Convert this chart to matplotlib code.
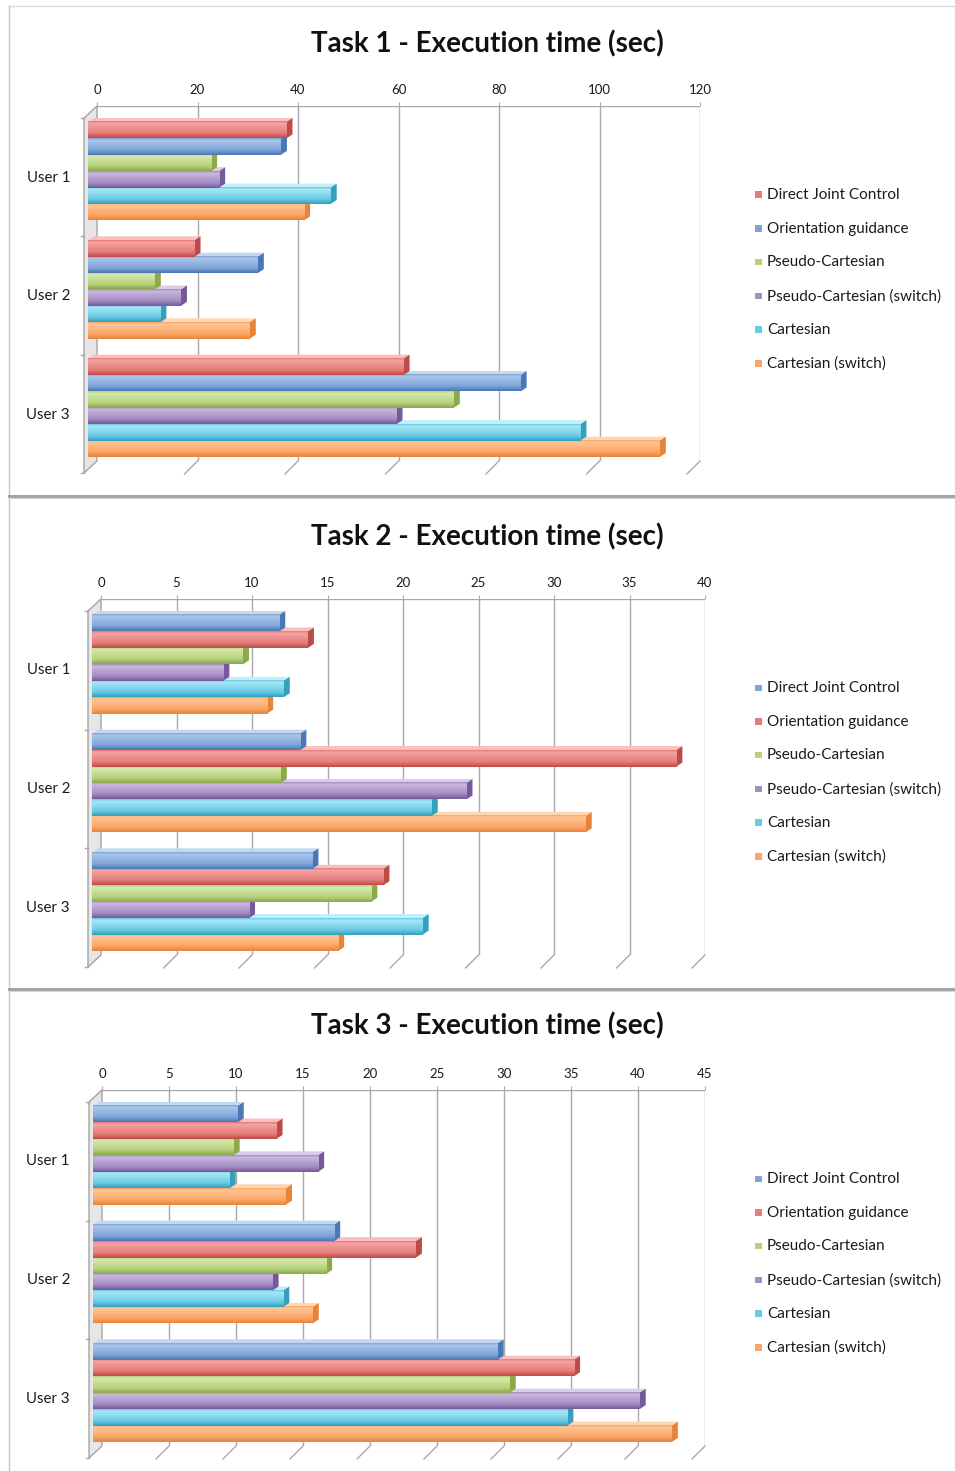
import numpy as np
import matplotlib
matplotlib.use("Agg")
import matplotlib.pyplot as plt
from matplotlib.patches import Polygon, Rectangle
from matplotlib.lines import Line2D
from matplotlib.colors import to_rgb

plt.rcParams['font.family'] = ['Lato', 'DejaVu Sans']

W, H, DPI = 955, 1471, 100

users = ["User 1", "User 2", "User 3"]
methods = ["Direct Joint Control", "Orientation guidance", "Pseudo-Cartesian",
           "Pseudo-Cartesian (switch)", "Cartesian", "Cartesian (switch)"]

# execution times (sec), one list per user, in method order
task1_user1 = [39.5, 38.4, 24.5, 26.1, 48.3, 43.0]
task1_user2 = [21.2, 33.8, 13.3, 18.5, 14.4, 32.2]
task1_user3 = [62.8, 86.1, 72.8, 61.4, 98.0, 113.8]

task2_user1 = [12.4, 14.3, 10.0, 8.7, 12.7, 11.6]
task2_user2 = [13.8, 38.7, 12.5, 24.8, 22.5, 32.7]
task2_user3 = [14.6, 19.3, 18.5, 10.4, 21.9, 16.3]

task3_user1 = [10.8, 13.7, 10.5, 16.8, 10.2, 14.4]
task3_user2 = [18.0, 24.1, 17.4, 13.4, 14.2, 16.4]
task3_user3 = [30.2, 35.9, 31.1, 40.8, 35.4, 43.2]

task1_ticks = [0, 20, 40, 60, 80, 100, 120]
task2_ticks = [0, 5, 10, 15, 20, 25, 30, 35, 40]
task3_ticks = [0, 5, 10, 15, 20, 25, 30, 35, 40, 45]

titles = ["Task 1 - Execution time (sec)",
          "Task 2 - Execution time (sec)",
          "Task 3 - Execution time (sec)"]

# (light, base, dark) shades for the Office-style 3D bars
RED = ('#F5A3A1', '#E57D7B', '#BF4B49')
BLUE = ('#A9C6EA', '#7FA5D8', '#4A78B4')
GREEN = ('#D6E9AB', '#B6D27D', '#8DAA4B')
PURPLE = ('#C9B8DE', '#A58CC4', '#77599A')
CYAN = ('#A8E7F6', '#69CBE4', '#33A0BC')
ORANGE = ('#FFC594', '#FBA666', '#E6843A')

task1_colors = [RED, BLUE, GREEN, PURPLE, CYAN, ORANGE]
task23_colors = [BLUE, RED, GREEN, PURPLE, CYAN, ORANGE]

GRID = '#a9a9a9'

fig = plt.figure(figsize=(W / DPI, H / DPI), dpi=DPI)
fig.patch.set_facecolor('white')


def fig_line(xs, ys, **kw):
    fig.add_artist(Line2D([x / W for x in xs], [1 - y / H for y in ys],
                          transform=fig.transFigure, **kw))


def face_gradient(shades):
    light, base, dark = [np.array(to_rgb(c)) for c in shades]
    stops = [(0.0, base), (0.12, light), (0.35, light * 0.6 + base * 0.4),
             (0.7, base), (1.0, dark)]
    t = np.linspace(0, 1, 32)
    rows = []
    for tt in t:
        for (a, ca), (b, cb) in zip(stops[:-1], stops[1:]):
            if a <= tt <= b:
                f = (tt - a) / (b - a)
                rows.append(ca * (1 - f) + cb * f)
                break
    return np.array(rows).reshape(-1, 1, 3)


def draw_panel(box, title, title_y, data, colors, ticks, label_off):
    x0, x1, ytop, ybot = box
    ax = fig.add_axes([x0 / W, 1 - ybot / H, (x1 - x0) / W, (ybot - ytop) / H])
    ax.set_facecolor('none')
    n_cat = len(users)
    n_ser = len(methods)
    xmax = ticks[-1]
    ppx = (x1 - x0) / xmax
    ppy = (ybot - ytop) / n_cat

    def dx(p):
        return p / ppx

    def dy(p):
        return p / ppy

    # back wall gridlines, top edge and floor slants
    ax.vlines(ticks[1:], 0, n_cat, color=GRID, lw=1.0, zorder=1)
    ax.hlines(0, 0, xmax, color=GRID, lw=1.0, zorder=1)
    for t in ticks[1:]:
        ax.plot([t, t - dx(13)], [n_cat, n_cat + dy(13)], color=GRID, lw=1.0,
                clip_on=False, zorder=1)

    # side wall along the category axis
    wall = Polygon([(0, 0), (0, n_cat), (-dx(13), n_cat + dy(12)), (-dx(13), dy(12))],
                   closed=True, facecolor='#e6e6e6', edgecolor='#a4a4a4', lw=1.0,
                   clip_on=False, zorder=2)
    ax.add_patch(wall)
    for i in range(n_cat + 1):
        ax.plot([-dx(13), -dx(16)], [i + dy(12), i + dy(12)], color='#a4a4a4', lw=1.0,
                clip_on=False, zorder=2)

    gap = dy(10)
    slot = (1 - 2 * gap) / n_ser
    shift_x, shift_y = dx(9), dy(6)
    ex, ey = dx(6), dy(4)
    for i, vals in enumerate(data):
        for k in reversed(range(n_ser)):
            v = vals[k]
            light, base, dark = colors[k]
            yc = i + gap + slot * (k + 0.5) + shift_y
            z = 10 + (n_ser - k)
            ax.barh(yc, v, height=slot, left=-shift_x, color=base, lw=0,
                    zorder=z + 0.2, clip_on=False)
            xl, xr = -shift_x, v - shift_x
            yt, yb = yc - slot / 2, yc + slot / 2
            top_c = np.array(to_rgb(light)) * 0.7 + 0.3
            ax.add_patch(Polygon([(xl, yt), (xr, yt), (xr + ex, yt - ey), (xl + ex, yt - ey)],
                                 closed=True, facecolor=top_c, edgecolor='none',
                                 zorder=z, clip_on=False))
            ax.add_patch(Polygon([(xr, yt), (xr, yb), (xr + ex, yb - ey), (xr + ex, yt - ey)],
                                 closed=True, facecolor=dark, edgecolor='none',
                                 zorder=z + 0.1, clip_on=False))
            ax.imshow(face_gradient(colors[k]), extent=(xl, xr, yb, yt), aspect='auto',
                      interpolation='bilinear', zorder=z + 0.3, clip_on=False)

    ax.set_autoscale_on(False)
    ax.set_xlim(0, xmax)
    ax.set_ylim(n_cat, 0)
    ax.xaxis.tick_top()
    ax.set_xticks(ticks)
    ax.set_xticklabels([str(t) for t in ticks])
    ax.tick_params(axis='x', length=3, color=GRID, pad=4, labelsize=9.5,
                   labelcolor='#1a1a1a')
    ax.set_yticks([])
    for s in ax.spines.values():
        s.set_visible(False)

    for i, u in enumerate(users):
        ax.text(-dx(x0 - 70), i + 0.5 + dy(label_off), u, ha='right', va='center',
                fontsize=10.8, color='#1a1a1a', clip_on=False)

    fig.text(487 / W, 1 - title_y / H, title, ha='center', va='center',
             fontsize=20, fontweight='bold', color='#111111')

    # legend
    for k, name in enumerate(methods):
        ly = ytop + 89 + 33.7 * k
        fig.patches.append(Rectangle((755 / W, 1 - (ly + 3) / H), 6.5 / W, 6.5 / H,
                                     transform=fig.transFigure, facecolor=colors[k][1],
                                     edgecolor='none'))
        fig.text(767 / W, 1 - ly / H, name, ha='left', va='center', fontsize=11,
                 color='#1a1a1a')


draw_panel((97, 700, 106, 461), titles[0], 44,
           [task1_user1, task1_user2, task1_user3], task1_colors, task1_ticks, 13)
draw_panel((101, 705, 599, 955), titles[1], 537,
           [task2_user1, task2_user2, task2_user3], task23_colors, task2_ticks, 12)
draw_panel((102, 705, 1090, 1446), titles[2], 1026,
           [task3_user1, task3_user2, task3_user3], task23_colors, task3_ticks, 12)

# chart frames and separators
fig_line([9, 955], [6, 6], color='#dcdcdc', lw=1.0)
for y0, y1 in [(6, 494), (498, 987), (991, 1471)]:
    fig_line([9, 9], [y0, y1], color='#c4c4c4', lw=1.0)
for y in (495.5, 988.5):
    fig_line([9, 955], [y, y], color='#a3a3a3', lw=2.2)
    fig_line([9, 955], [y + 2, y + 2], color='#d6d6d6', lw=0.8)

fig.savefig('out.png', dpi=DPI, facecolor='white')
